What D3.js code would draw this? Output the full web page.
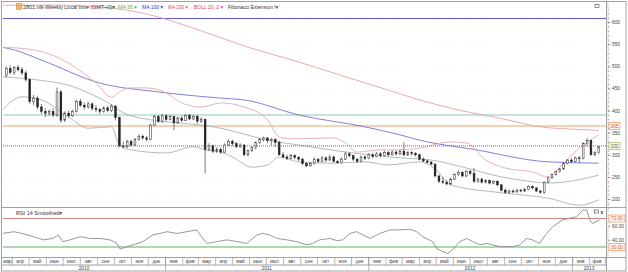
<!DOCTYPE html>
<html>
<head>
<meta charset="utf-8">
<script src="https://cdn.jsdelivr.net/npm/d3@7"></script>
<style>
  body { margin: 0; background: #fff; }
  svg text { font-family: "Liberation Sans", Arial, "DejaVu Sans", sans-serif; }
</style>
</head>
<body>
<svg id="chart" width="628" height="272"></svg>
<script>
// weekly bars, first bar = week of 22 Mar 2010
const firstWeek = new Date(2010, 2, 22)

const openP = [480,495,486,497,492,485,470,420,428,408,398,394,398,390,442,378,394,388,398,420,
  412,408,415,405,402,398,406,400,410,384,320,318,330,322,335,342,338,335,367,386,
  375,388,380,386,372,383,378,389,381,387,376,380,312,320,308,312,306,322,330,325,
  318,322,300,310,316,328,335,338,332,335,328,300,295,292,298,294,290,280,275,280,
  290,285,293,288,295,285,282,290,302,298,290,285,295,292,300,296,302,298,305,300,
  306,302,308,300,305,303,300,290,286,283,279,252,240,238,234,245,255,260,252,262,
  258,240,245,238,242,236,240,232,220,215,218,216,220,218,222,228,225,218,215,238,
  248,255,262,268,280,288,285,293,292,325,332,300,305]
const highP = [500,502,500,503,498,490,472,435,432,415,405,402,405,452,446,398,400,402,424,426,
  418,420,418,412,406,410,410,414,412,386,330,334,334,338,346,345,342,370,390,390,
  392,392,390,388,386,388,392,392,390,390,385,382,326,323,317,316,326,334,334,329,
  326,324,312,318,330,338,341,340,338,337,332,306,300,302,301,297,293,283,284,294,
  293,297,296,300,298,288,294,306,305,300,293,298,298,304,304,306,306,309,308,310,
  310,312,328,308,308,306,302,294,289,286,281,255,250,243,248,258,264,263,266,266,
  270,248,248,245,244,242,242,234,224,221,222,223,223,225,231,231,227,221,240,250,
  257,264,270,282,290,292,296,297,328,337,334,308,320]
const lowP = [475,482,480,488,480,465,415,412,402,392,385,388,385,385,372,374,384,385,395,408,
  402,404,400,396,392,395,396,396,378,316,314,315,318,320,332,334,330,333,365,372,
  372,376,378,355,370,374,376,378,378,370,372,258,308,304,304,302,304,320,320,315,
  315,296,296,306,312,324,330,326,322,318,298,292,288,290,290,286,276,272,273,278,
  282,283,284,286,282,279,280,288,294,286,282,283,288,290,292,294,294,296,296,298,
  298,300,296,297,298,296,287,283,280,276,249,236,234,231,231,243,252,249,250,254,
  236,237,235,235,233,233,229,217,212,212,213,214,215,216,220,222,216,212,212,236,
  245,252,259,266,278,281,283,282,290,320,298,297,302]
const closeP = [495,486,497,492,485,470,420,428,408,398,394,398,390,442,378,394,388,398,420,412,
  408,415,405,402,398,406,400,410,384,320,318,330,322,335,342,338,335,367,386,375,
  388,380,386,372,383,378,389,381,387,376,380,312,320,308,312,306,322,330,325,318,
  322,300,310,316,328,335,338,332,335,328,300,295,292,298,294,290,280,275,280,290,
  285,293,288,295,285,282,290,302,298,290,285,295,292,300,296,302,298,305,300,306,
  302,308,300,305,303,300,290,286,283,279,252,240,238,234,245,255,260,252,262,258,
  240,245,238,242,236,240,232,220,215,218,216,220,218,222,228,225,218,215,238,248,
  255,262,268,280,288,285,293,292,325,332,300,305,318]

// indicator lines: [week index, value]
const ma30Pts = [[-1,476],[9,468],[16,457],[22,436],[26,418],[30,395],[37,379],[44,372],[50,367],[55,360],
  [60,349],[67,333],[75,322],[89,304],[101,293],[109,288],[118,270],[127,250],[134,240],[139,236],[146,242],[152,254]]
const ma100Pts = [[-1,543],[2,537],[9,514],[24,462],[39,442],[55,428],[61,424],[75,390],[92,363],
  [101,345],[106,333],[120,312],[139,284],[152,281]]
const ma200Pts = [[-1,638],[14,638],[24,634],[35,620],[50,580],[62,543],[73,515],[86,479],[98,446],
  [106,424],[116,401],[127,382],[137,363],[145,358],[152,355]]
const bollUpPts = [[-1,543],[7,537],[16,507],[23,462],[27,430],[29,442],[32,451],[36,451],[41,440],[45,417],
  [50,408],[55,417],[61,408],[67,379],[70,340],[73,336],[84,338],[87,327],[90,306],[96,311],[101,311],
  [106,315],[114,329],[118,327],[123,288],[128,270],[135,261],[139,250],[142,272],[147,315],[152,345]]
const bollLoPts = [[-1,401],[4,431],[9,424],[16,385],[21,360],[27,363],[29,322],[32,311],[41,304],[48,318],
  [51,311],[55,306],[58,295],[63,272],[67,277],[70,295],[75,284],[84,281],[92,284],[98,277],[106,284],
  [110,268],[114,232],[127,214],[139,202],[147,186],[152,198]]
const rsiPts = [[-1,49],[2,51.5],[4,49],[7,44.5],[9.5,40],[12,42],[13.3,47],[14.5,37.5],[16.3,40],[19,44.5],
  [21.5,42],[24,42],[26.6,40],[28.4,35],[29.2,27],[31,30.5],[32.5,33],[35,37.5],[37.6,47],[39.4,49],
  [41.2,51.5],[43.8,49],[46.3,51.5],[48.9,54],[49.7,47],[51.5,35],[54,37.5],[56.6,40],[59.2,37.5],[61.7,35],
  [64.3,47],[65.8,49],[67.6,47],[69.4,42],[72,40],[74.5,37.5],[77.1,33],[78.6,35],[80.4,40],[83,42],
  [84.8,39],[86.3,40],[88.1,49],[89.9,51.5],[91.5,47],[93.3,42],[95.8,49],[98.4,54],[101,54],[103.5,55],
  [105.3,51.5],[106.8,44.5],[109.4,37.5],[110.4,28],[112,23.5],[113.3,21],[114.5,26],[116.3,37.5],[118.1,42],
  [119.7,37.5],[121.5,33],[123.3,35],[124.8,33],[126.6,30.5],[130,30.5],[131.7,33],[133.5,42],[135,40],
  [136.8,35],[138.6,49],[140.2,58.5],[142.7,68],[146.3,72.5],[147.9,82],[148.9,82],[149.7,68],[150.4,63],[152.2,68]]

// levels
const fiboTop = 608, greenLevel = 390, orangeLevel = 365, redLevel = 320
const priceTicks = [200, 250, 300, 350, 400, 450, 500, 550, 600]
const rsiTicks = [40, 60]
const rsiHigh = 70, rsiLow = 30
const monthNames = ['янв','фев','мар','апр','май','июн','июл','авг','сен','окт','ноя','дек']

const svg = d3.select('#chart')
const left = 3, right = 606, mainTop = 3, mainBot = 207, rsiTop = 208, rsiBot = 257

const x = d3.scaleTime()
  .domain([new Date(2010, 2, 16), new Date(2013, 2, 3)])
  .range([left, right])
const y = d3.scaleLinear().domain([200, 600]).range([199, 22])
const yr = d3.scaleLinear().domain([30, 70]).range([247, 218.5])

const wkDate = w => new Date(+firstWeek + w * 7 * 864e5)
const dates = closeP.map((d, i) => wkDate(i))

const defs = svg.append('defs')
defs.append('clipPath').attr('id', 'clipMain').append('rect')
  .attr('x', left).attr('y', mainTop).attr('width', right - left).attr('height', mainBot - mainTop)
defs.append('clipPath').attr('id', 'clipRsi').append('rect')
  .attr('x', left).attr('y', rsiTop).attr('width', right - left).attr('height', rsiBot - rsiTop)

// faint grid
svg.append('g').selectAll('line').data(priceTicks).join('line')
  .attr('x1', left).attr('x2', right)
  .attr('y1', d => y(d)).attr('y2', d => y(d))
  .attr('stroke', '#dcdcdc').attr('stroke-width', 0.6).attr('stroke-dasharray', '1,10')

const main = svg.append('g').attr('clip-path', 'url(#clipMain)')

// horizontal levels
function hline(g, yy, color, w, dash) {
  g.append('line').attr('x1', left).attr('x2', right).attr('y1', yy).attr('y2', yy)
    .attr('stroke', color).attr('stroke-width', w).attr('stroke-dasharray', dash || null)
}
hline(main, y(fiboTop), '#5a5ad0', 1.1)
hline(main, y(greenLevel), '#8cc8b8', 1.1)
hline(main, y(orangeLevel), '#f0a070', 1)

const line = d3.line().x(d => x(wkDate(d[0]))).y(d => y(d[1])).curve(d3.curveMonotoneX)
const series = [
  [ma200Pts, '#e8a0a6'],
  [ma100Pts, '#7272d4'],
  [bollUpPts, '#e8a8b2'],
  [ma30Pts, '#a8b4ac'],
  [bollLoPts, '#b0b0b0']
]
series.forEach(s => {
  main.append('path').datum(s[0]).attr('d', line)
    .attr('fill', 'none').attr('stroke', s[1]).attr('stroke-width', 0.9)
})

// candles
const bw = 1.8
main.append('g').selectAll('line').data(dates).join('line')
  .attr('x1', d => x(d)).attr('x2', d => x(d))
  .attr('y1', (d, i) => y(highP[i])).attr('y2', (d, i) => y(lowP[i]))
  .attr('stroke', '#222').attr('stroke-width', 0.6)
main.append('g').selectAll('rect').data(dates).join('rect')
  .attr('x', d => x(d) - bw / 2).attr('width', bw)
  .attr('y', (d, i) => y(Math.max(openP[i], closeP[i])))
  .attr('height', (d, i) => Math.max(0.8, Math.abs(y(openP[i]) - y(closeP[i]))))
  .attr('fill', (d, i) => closeP[i] >= openP[i] ? '#fff' : '#222')
  .attr('stroke', '#222').attr('stroke-width', 0.5)

hline(main, y(redLevel), '#c84848', 1, '1,1')

// RSI panel
const rsi = svg.append('g').attr('clip-path', 'url(#clipRsi)')
hline(rsi, yr(rsiHigh), '#d08484', 1)
hline(rsi, yr(rsiLow), '#5cb05c', 1)
rsi.append('path').datum(rsiPts)
  .attr('d', d3.line().x(d => x(wkDate(d[0]))).y(d => yr(d[1])))
  .attr('fill', 'none').attr('stroke', '#8c8c8c').attr('stroke-width', 0.9)

// frame
const frame = svg.append('g').attr('stroke', '#8a8a8a').attr('stroke-width', 0.8).attr('fill', 'none')
frame.append('rect').attr('x', 1.5).attr('y', 1.5).attr('width', 624.5).attr('height', 269.5)
frame.append('line').attr('x1', 1.5).attr('x2', 626).attr('y1', 207.5).attr('y2', 207.5)
frame.append('line').attr('x1', 1.5).attr('x2', 626).attr('y1', 257.5).attr('y2', 257.5)
frame.append('line').attr('x1', 1.5).attr('x2', 606.5).attr('y1', 265).attr('y2', 265)
frame.append('line').attr('x1', 606.5).attr('x2', 606.5).attr('y1', 1.5).attr('y2', 271)

// right axes
const fs = 4.8
const axisMain = svg.append('g').attr('transform', 'translate(608,0)')
  .call(d3.axisRight(y).tickValues(priceTicks).tickSize(2.5).tickPadding(1.5))
axisMain.call(g => g.select('.domain').remove())
svg.append('line').attr('x1', 608).attr('x2', 608).attr('y1', 3).attr('y2', 206)
  .attr('stroke', '#777').attr('stroke-width', 0.6).attr('stroke-dasharray', '1,1')
svg.append('g').attr('transform', 'translate(608,0)')
  .call(d3.axisRight(y).tickValues(d3.range(180, 640, 10)).tickSize(1.2).tickFormat(''))
  .call(g => g.select('.domain').remove())
  .selectAll('line').attr('stroke', '#888').attr('stroke-width', 0.5)

const axisRsi = svg.append('g').attr('transform', 'translate(608,0)')
  .call(d3.axisRight(yr).tickValues(rsiTicks).tickSize(2.5).tickPadding(1.5).tickFormat(d3.format('.2f')))
axisRsi.call(g => g.select('.domain').remove())
svg.append('line').attr('x1', 608).attr('x2', 608).attr('y1', 209).attr('y2', 256)
  .attr('stroke', '#777').attr('stroke-width', 0.6).attr('stroke-dasharray', '1,1')

svg.selectAll('.tick text').attr('font-size', fs).attr('fill', '#444')
svg.selectAll('.tick line').attr('stroke', '#777').attr('stroke-width', 0.6)

function tagBox(yy, label, stroke, fill, color, w) {
  svg.append('rect').attr('x', 609).attr('y', yy - 3.5).attr('width', w).attr('height', 7)
    .attr('fill', fill).attr('stroke', stroke).attr('stroke-width', 0.7)
  svg.append('text').attr('x', 609 + w / 2).attr('y', yy + 1.7).attr('text-anchor', 'middle')
    .attr('font-size', fs).attr('fill', color).text(label)
}
tagBox(y(orangeLevel), String(orangeLevel), '#f09060', '#fff6ee', '#e05a30', 11)
tagBox(y(redLevel), String(redLevel), '#a8b860', '#fbfdf2', '#606020', 11)
tagBox(yr(rsiHigh), d3.format('.2f')(rsiHigh), '#f09060', '#fff6ee', '#e05a30', 16)
tagBox(yr(rsiLow), d3.format('.2f')(rsiLow), '#f09060', '#fff6ee', '#e05a30', 16)

// time axis: month cells and year cells
const months = d3.timeMonth.range(x.domain()[0], x.domain()[1])
const mEdges = [x.domain()[0]].concat(months, [x.domain()[1]])
const ax = svg.append('g')
ax.selectAll('line.m').data(months).join('line')
  .attr('x1', d => x(d) + 0.5).attr('x2', d => x(d) + 0.5).attr('y1', 257.5).attr('y2', 265)
  .attr('stroke', '#8a8a8a').attr('stroke-width', 0.6)
ax.selectAll('text.m').data(d3.pairs(mEdges).filter(d => x(d[1]) - x(d[0]) > 8)).join('text')
  .attr('x', d => (x(d[0]) + x(d[1])) / 2).attr('y', 263.3).attr('text-anchor', 'middle')
  .attr('font-size', fs).attr('fill', '#444')
  .text(d => monthNames[d[0].getMonth()])

const years = d3.timeYear.range(x.domain()[0], x.domain()[1])
const yEdges = [x.domain()[0]].concat(years, [x.domain()[1]])
ax.selectAll('line.y').data(years).join('line')
  .attr('x1', d => x(d) + 0.5).attr('x2', d => x(d) + 0.5).attr('y1', 257.5).attr('y2', 271)
  .attr('stroke', '#8a8a8a').attr('stroke-width', 0.6)
ax.selectAll('text.y').data(d3.pairs(yEdges)).join('text')
  .attr('x', d => (x(d[0]) + x(d[1])) / 2).attr('y', 270.3).attr('text-anchor', 'middle')
  .attr('font-size', fs).attr('fill', '#444')
  .text(d => d[0].getFullYear())

// legend
svg.append('rect').attr('x', 16.5).attr('y', 3.5).attr('width', 5).attr('height', 6)
  .attr('fill', '#f2b35a').attr('stroke', '#d08a30').attr('stroke-width', 0.5)
const legend = [
  ['2801.nlk-Weekly Local time (GMT+0)▾', 23, 92, '#333'],
  ['MA 30 ▾', 118, 19, '#5aa55a'],
  ['MA 100 ▾', 142, 21, '#3434c4'],
  ['MA 200 ▾', 168, 20, '#e04848'],
  ['BOLL 20, 2 ▾', 194, 29, '#e04848'],
  ['Fibonacci Extension !▾', 228, 50, '#333']
]
svg.append('g').selectAll('text').data(legend).join('text')
  .attr('x', d => d[1]).attr('y', 8.6).attr('font-size', 5.4)
  .attr('textLength', d => d[2]).attr('lengthAdjust', 'spacingAndGlyphs')
  .attr('fill', d => d[3]).text(d => d[0])

svg.append('text').attr('x', 16).attr('y', 214.5).attr('font-size', 5.4)
  .attr('textLength', 46).attr('lengthAdjust', 'spacingAndGlyphs')
  .attr('fill', '#333').text('RSI 14 Smoothed▾')

// panel buttons
svg.append('rect').attr('x', 595).attr('y', 4.5).attr('width', 4).attr('height', 3)
  .attr('fill', '#fff').attr('stroke', '#444').attr('stroke-width', 0.6)
svg.append('rect').attr('x', 594.5).attr('y', 210).attr('width', 4).attr('height', 3)
  .attr('fill', '#fff').attr('stroke', '#444').attr('stroke-width', 0.6)
svg.append('text').attr('x', 600.5).attr('y', 213.6).attr('font-size', 5).attr('font-weight', 'bold')
  .attr('fill', '#333').text('x')
</script>
</body>
</html>
